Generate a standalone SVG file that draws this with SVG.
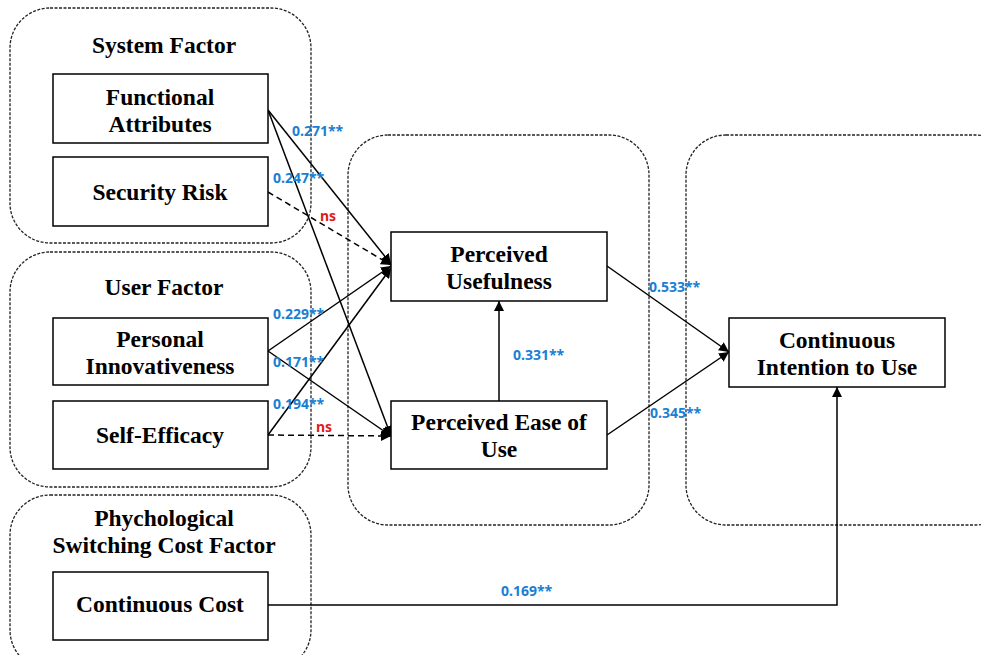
<svg xmlns="http://www.w3.org/2000/svg" width="981" height="655" viewBox="0 0 981 655">
<defs>
<marker id="ah" viewBox="0 0 10 10" refX="10" refY="5" markerWidth="10" markerHeight="10" markerUnits="userSpaceOnUse" orient="auto">
<path d="M0,0 L10,5 L0,10 z" fill="#000"/>
</marker>
</defs>
<style>
.grp{fill:none;stroke:#222;stroke-width:1.3;stroke-dasharray:3,1.5}
.box{fill:#fff;stroke:#000;stroke-width:1.5}
.t{font-family:"Liberation Serif","Times New Roman",serif;font-weight:bold;font-size:23.5px;text-anchor:middle;fill:#000}
.c{fill:none;stroke:#000;stroke-width:1.5;marker-end:url(#ah)}
.d{stroke-dasharray:6,4}
.lb{font-family:"Noto Sans","DejaVu Sans",sans-serif;font-weight:bold;font-size:14px;fill:#1a7fd4}
.ns{font-family:"Noto Sans","DejaVu Sans",sans-serif;font-weight:bold;font-size:14px;fill:#e02020}
</style>
<rect width="981" height="655" fill="#fff"/>
<g id="groups">
<rect id="g-system" class="grp" x="10" y="8" width="301" height="235" rx="40"/>
<rect id="g-user" class="grp" x="10" y="252" width="301" height="235" rx="40"/>
<rect id="g-psych" class="grp" x="10" y="495" width="301" height="175" rx="40"/>
<rect id="g-mid" class="grp" x="348" y="135" width="301" height="390" rx="40"/>
<rect id="g-right" class="grp" x="686" y="135" width="330" height="390" rx="40"/>
<text class="t" x="164" y="53">System Factor</text>
<text class="t" x="164" y="295">User Factor</text>
<text class="t" x="164" y="526">Phychological</text>
<text class="t" x="164" y="553">Switching Cost Factor</text>
</g>
<g id="connectors">
<line class="c" x1="268" y1="110" x2="391" y2="264"/>
<line class="c" x1="268" y1="110" x2="391" y2="436"/>
<line class="c d" x1="268" y1="192" x2="391" y2="265"/>
<line class="c" x1="268" y1="351" x2="391" y2="266"/>
<line class="c" x1="268" y1="351" x2="391" y2="436"/>
<line class="c" x1="268" y1="435" x2="391" y2="268"/>
<line class="c d" x1="268" y1="435" x2="391" y2="436"/>
<line class="c" x1="499" y1="401" x2="499" y2="301"/>
<line class="c" x1="607" y1="266" x2="729" y2="352"/>
<line class="c" x1="607" y1="435" x2="729" y2="352"/>
<polyline class="c" points="268,605 837,605 837,387"/>
</g>
<g id="labels">
<text class="lb" x="292" y="136">0.271**</text>
<text class="lb" x="273" y="183">0.247**</text>
<text class="ns" x="320" y="221">ns</text>
<text class="lb" x="273" y="319">0.229**</text>
<text class="lb" x="273" y="367">0.171**</text>
<text class="lb" x="273" y="409">0.194**</text>
<text class="ns" x="316" y="432">ns</text>
<text class="lb" x="513" y="360">0.331**</text>
<text class="lb" x="649" y="292">0.533**</text>
<text class="lb" x="650" y="418">0.345**</text>
<text class="lb" x="501" y="596">0.169**</text>
</g>
<g id="n-fa"><rect class="box" x="53" y="74" width="215" height="69"/><text class="t" x="160" y="105">Functional</text><text class="t" x="160" y="132">Attributes</text></g>
<g id="n-sr"><rect class="box" x="53" y="157" width="215" height="69"/><text class="t" x="160" y="200">Security Risk</text></g>
<g id="n-pi"><rect class="box" x="53" y="318" width="215" height="67"/><text class="t" x="160" y="347">Personal</text><text class="t" x="160" y="374">Innovativeness</text></g>
<g id="n-se"><rect class="box" x="53" y="401" width="215" height="68"/><text class="t" x="160" y="443">Self-Efficacy</text></g>
<g id="n-cc"><rect class="box" x="53" y="572" width="215" height="68"/><text class="t" x="160" y="612">Continuous Cost</text></g>
<g id="n-pu"><rect class="box" x="391" y="232" width="216" height="69"/><text class="t" x="499" y="262">Perceived</text><text class="t" x="499" y="289">Usefulness</text></g>
<g id="n-peou"><rect class="box" x="391" y="401" width="216" height="68"/><text class="t" x="499" y="430">Perceived Ease of</text><text class="t" x="499" y="457">Use</text></g>
<g id="n-ciu"><rect class="box" x="729" y="318" width="216" height="69"/><text class="t" x="837" y="348">Continuous</text><text class="t" x="837" y="375">Intention to Use</text></g>
</svg>
